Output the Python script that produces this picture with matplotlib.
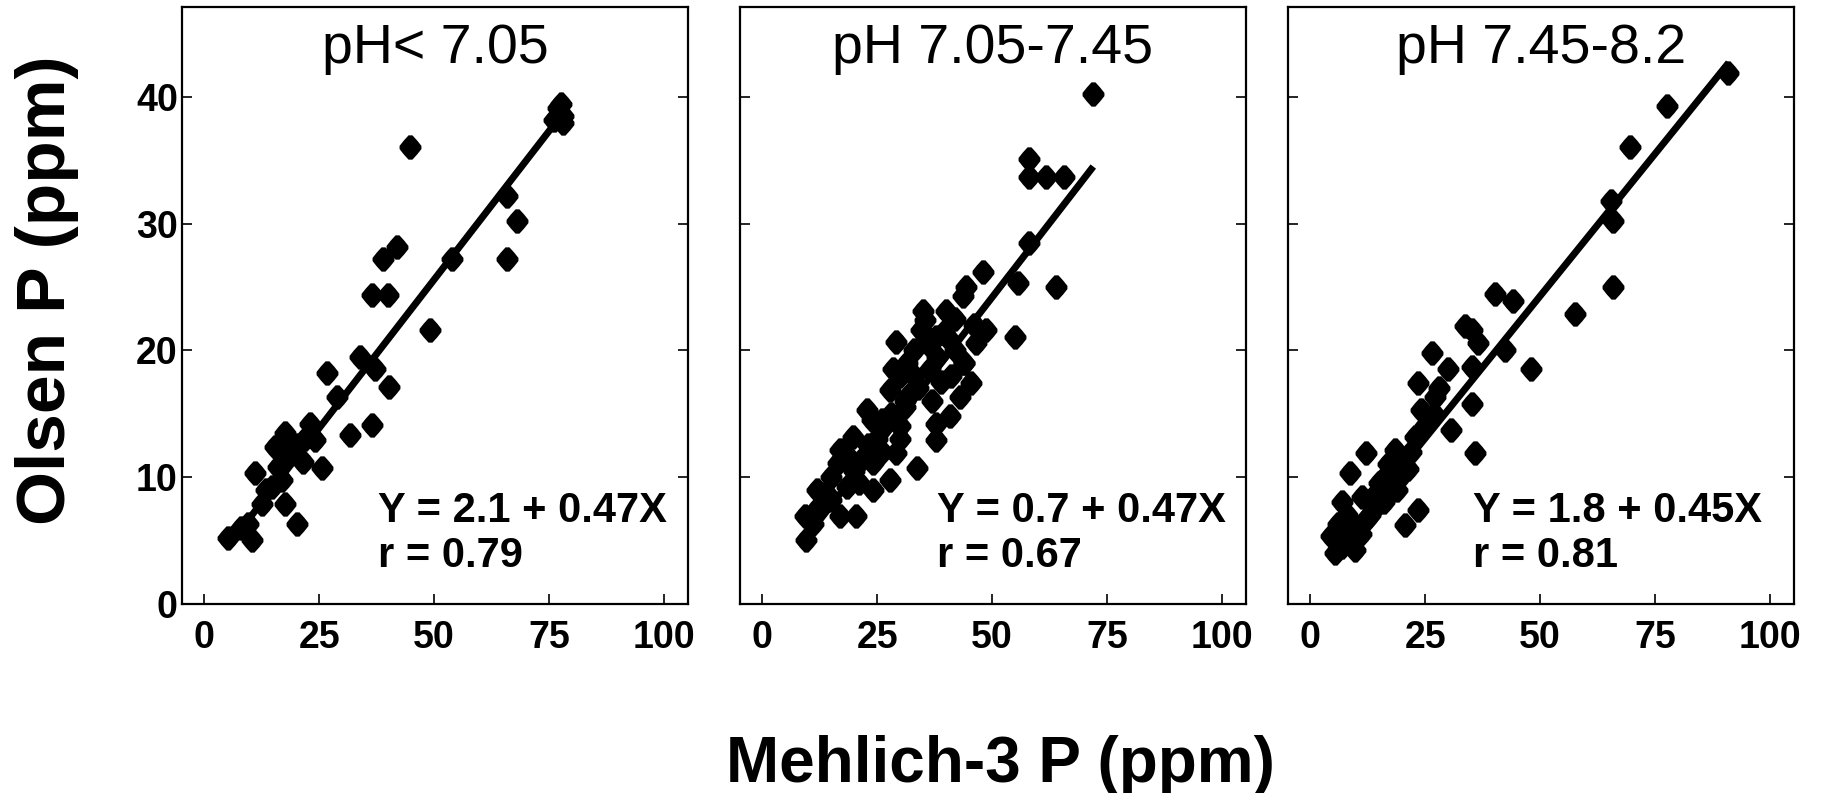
import matplotlib
matplotlib.use("Agg")
import matplotlib.pyplot as plt
import numpy as np

plt.rcParams["font.family"] = ["Liberation Sans", "DejaVu Sans"]

# ---- data -------------------------------------------------------------
titles = ["pH< 7.05", "pH 7.05-7.45", "pH 7.45-8.2"]
x_ticks = [0, 25, 50, 75, 100]
y_ticks = [0, 10, 20, 30, 40]

# Mehlich-3 P (x) and Olsen P (y), ppm, for the three soil pH groups
m3_low = [5.3, 8.0, 9.6, 10.4, 11.1, 12.5, 13.5, 14.7, 15.4, 16.0, 16.9, 17.6,
          17.6, 18.5, 19.1, 20.0, 20.2, 21.6, 22.0, 23.0, 24.1, 25.6, 26.7,
          28.8, 31.7, 33.9, 36.4, 36.5, 37.2, 39.0, 40.0, 40.1, 41.9, 44.8,
          49.1, 53.8, 65.8, 65.8, 68.0, 76.0, 77.0, 77.5, 78.0, 78.0]
olsen_low = [5.15, 6.0, 6.3, 5.0, 10.3, 7.9, 9.0, 9.2, 12.4, 10.8, 9.8, 13.5,
             7.9, 12.0, 11.9, 12.5, 6.3, 11.2, 13.0, 14.2, 12.9, 10.7, 18.2,
             16.3, 13.3, 19.5, 24.4, 14.1, 18.5, 27.2, 24.4, 17.1, 28.2, 36.1,
             21.6, 27.2, 32.2, 27.2, 30.2, 38.2, 39.2, 39.5, 38.5, 38.0]

m3_mid = [9.5, 9.3, 11.0, 12.0, 14.0, 15.0, 16.9, 18.4, 20.5, 16.6, 17.0, 19.8,
          20.0, 22.0, 24.1, 24.1, 22.7, 25.0, 26.0, 27.8, 27.8, 28.0, 29.2,
          29.2, 29.9, 30.0, 31.4, 32.0, 33.6, 33.0, 34.6, 35.0, 35.5, 36.4,
          37.0, 37.9, 37.9, 37.9, 38.0, 39.0, 40.0, 40.8, 41.0, 42.0, 43.0,
          43.7, 44.4, 45.5, 46.0, 46.6, 48.0, 48.7, 54.9, 55.6, 58.1, 58.1,
          58.1, 61.8, 63.9, 65.7, 71.9, 21.0, 25.5, 31.0, 34.0, 39.5, 44.0,
          12.0, 15.0, 19.0, 23.0, 26.0, 28.5, 31.0, 33.0, 36.0, 40.5, 42.0,
          44.0, 30.0, 24.0]
olsen_mid = [5.0, 6.9, 6.3, 7.5, 8.7, 8.2, 6.9, 9.2, 6.9, 11.1, 12.1, 13.2,
             10.5, 11.5, 9.0, 11.1, 15.3, 13.0, 14.5, 9.8, 16.9, 15.0, 11.9,
             20.7, 14.0, 18.0, 19.0, 16.5, 10.7, 20.0, 21.6, 23.1, 22.4, 18.5,
             16.0, 14.2, 12.9, 21.1, 19.5, 17.5, 23.1, 14.8, 18.0, 20.0, 16.3,
             24.3, 25.0, 17.4, 22.0, 20.6, 26.2, 21.6, 21.1, 25.3, 28.5, 33.7,
             35.1, 33.7, 25.0, 33.7, 40.3, 9.5, 12.0, 15.5, 17.0, 21.5, 19.0,
             9.0, 10.0, 11.5, 12.5, 12.0, 18.5, 16.0, 18.0, 20.5, 21.0, 22.5,
             19.0, 13.0, 14.5]

m3_high = [4.6, 5.4, 6.1, 7.0, 9.0, 9.7, 8.6, 11.2, 12.2, 13.0, 14.8, 16.2,
           17.7, 18.4, 20.6, 21.3, 22.8, 23.5, 23.5, 24.2, 20.0, 19.0, 15.0,
           12.0, 26.4, 27.1, 30.0, 30.7, 35.1, 35.1, 35.1, 35.8, 36.5, 33.6,
           40.2, 44.1, 42.3, 48.1, 57.5, 65.5, 65.9, 65.9, 69.5, 77.5, 90.9,
           25.0, 27.0, 28.0, 22.0, 17.0, 6.0, 8.0, 10.0, 11.0, 14.0, 16.0,
           7.0, 19.5]
olsen_high = [5.3, 4.0, 6.3, 4.5, 5.8, 4.2, 10.3, 8.4, 11.9, 7.0, 7.9, 10.0,
              9.2, 12.1, 6.2, 10.6, 13.2, 7.4, 17.4, 15.3, 11.0, 9.0, 9.5,
              6.5, 19.8, 16.3, 18.5, 13.7, 21.6, 18.7, 15.8, 11.9, 20.6, 21.9,
              24.5, 23.9, 20.0, 18.5, 22.9, 31.8, 30.2, 25.0, 36.1, 39.3, 41.9,
              14.0, 15.0, 17.0, 12.0, 11.0, 5.0, 7.0, 6.0, 5.5, 8.5, 8.0,
              8.0, 10.0]

# regression results reported on each panel
intercepts = [2.1, 0.7, 1.8]
slopes = [0.47, 0.47, 0.45]
r_values = [0.79, 0.67, 0.81]
fit_x_ranges = [(6, 77), (9, 72), (5, 91)]

groups = [(m3_low, olsen_low), (m3_mid, olsen_mid), (m3_high, olsen_high)]

# ---- figure -----------------------------------------------------------
W, H = 1829, 793
fig = plt.figure(figsize=(W / 100, H / 100), dpi=100)

ax_lefts = [182, 740, 1288]
ax_w, ax_top, ax_bottom = 506, 7, 603.5
eq_x = [0.387, 0.39, 0.366]

# blunt diamond symbol
diamond = [(-0.16, 1.0), (0.16, 1.0), (0.56, 0.56), (0.9, 0.13),
           (0.9, -0.13), (0.56, -0.56), (0.16, -1.0), (-0.16, -1.0),
           (-0.56, -0.56), (-0.9, -0.13), (-0.9, 0.13), (-0.56, 0.56)]

for i, (xs, ys) in enumerate(groups):
    ax = fig.add_axes([ax_lefts[i] / W, (H - ax_bottom) / H,
                       ax_w / W, (ax_bottom - ax_top) / H])
    ax.plot(xs, ys, linestyle="none", marker=diamond, markersize=17.5,
            color="black", markeredgewidth=0)
    fx = np.array(fit_x_ranges[i], dtype=float)
    ax.plot(fx, intercepts[i] + slopes[i] * fx, color="black", lw=5,
            solid_capstyle="butt")

    ax.set_xlim(-4.8, 105.2)
    ax.set_ylim(0, 47.15)
    ax.set_xticks(x_ticks)
    ax.set_yticks(y_ticks)
    ax.tick_params(axis="both", direction="in", length=7, width=1.2,
                   labelsize=27)
    ax.tick_params(axis="x", pad=12)
    ax.tick_params(axis="y", pad=3, right=True)
    for lab in ax.get_xticklabels() + ax.get_yticklabels():
        lab.set_fontweight("bold")
    if i > 0:
        ax.set_yticklabels([])
    for sp in ax.spines.values():
        sp.set_linewidth(1.6)

    ax.text(0.5, 0.906, titles[i], transform=ax.transAxes, ha="center",
            va="baseline", fontsize=40)
    ax.text(eq_x[i], 0.137,
            f"Y = {intercepts[i]} + {slopes[i]}X", transform=ax.transAxes,
            ha="left", va="baseline", fontsize=30, fontweight="bold")
    ax.text(eq_x[i], 0.0617, f"r = {r_values[i]}", transform=ax.transAxes,
            ha="left", va="baseline", fontsize=30, fontweight="bold")

fig.text(0.0255, 0.634, "Olsen P (ppm)", rotation=90, ha="center",
         va="center", fontsize=50, fontweight="bold")
fig.text(0.547, 0.035, "Mehlich-3 P (ppm)", ha="center", va="center",
         fontsize=46, fontweight="bold")

fig.savefig("out.png", dpi=100, facecolor="white")
